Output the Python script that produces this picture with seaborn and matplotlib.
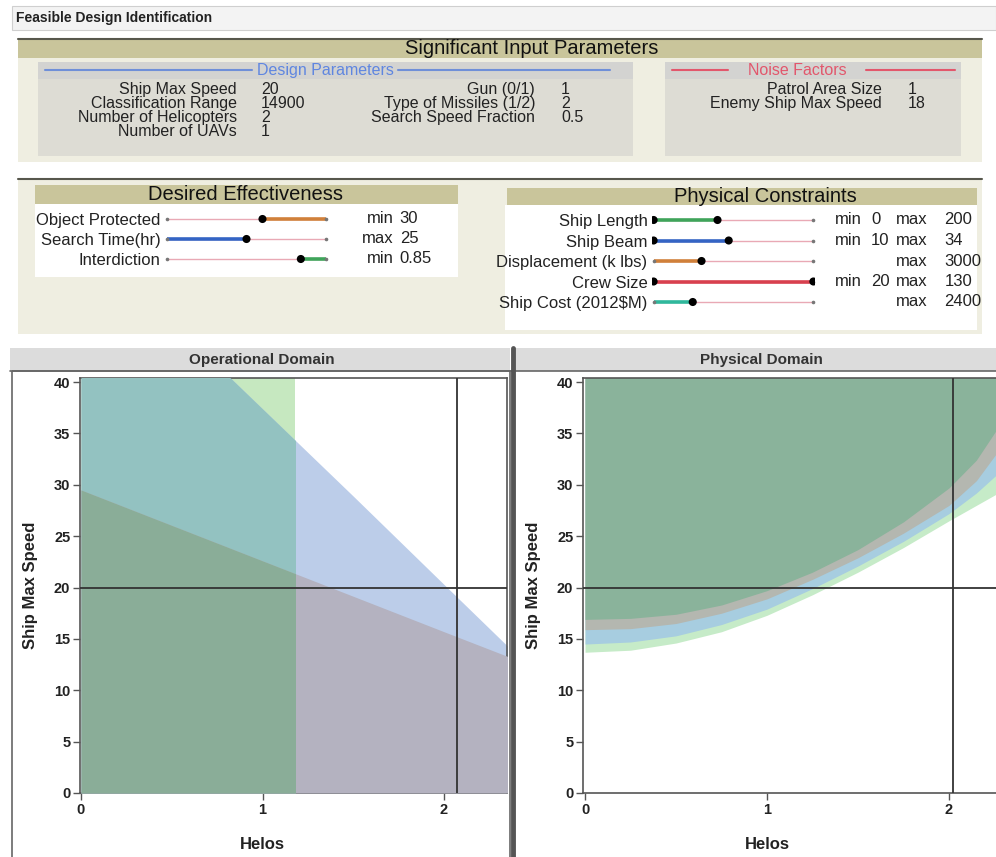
import matplotlib

matplotlib.use("Agg")
import matplotlib.pyplot as plt
from matplotlib.patches import Rectangle
import numpy as np
import pandas as pd
import seaborn as sns

# --- significant input parameters ---------------------------------------
design_names_a = ["Ship Max Speed", "Classification Range", "Number of Helicopters", "Number of UAVs"]
design_values_a = ["20", "14900", "2", "1"]
design_names_b = ["Gun (0/1)", "Type of Missiles (1/2)", "Search Speed Fraction"]
design_values_b = ["1", "2", "0.5"]
noise_names = ["Patrol Area Size", "Enemy Ship Max Speed"]
noise_values = ["1", "18"]

# --- desired effectiveness sliders (marker = fraction of slider range) ----
effect_names = ["Object Protected", "Search Time(hr)", "Interdiction"]
effect_pos = [0.60, 0.50, 0.84]
effect_kind = ["min", "max", "min"]
effect_limit = ["30", "25", "0.85"]
effect_colors = ["#d0803a", "#3464c4", "#3fa45a"]

# --- physical constraint sliders -----------------------------------------
phys_names = ["Ship Length", "Ship Beam", "Displacement (k lbs)", "Crew Size", "Ship Cost (2012\\$M)"]
phys_pos = [0.40, 0.47, 0.30, 1.00, 0.245]
phys_min = ["0", "10", "", "20", ""]
phys_max = ["200", "34", "3000", "130", "2400"]
phys_colors = ["#3fa45a", "#3464c4", "#d0803a", "#d8404e", "#2fb89c"]

# --- operational domain (ship max speed limits vs helos) ------------------
op_helos = [0.0, 0.5, 1.0, 1.5, 2.0, 2.35]
op_search_time = [54.5, 45.9, 37.4, 28.9, 20.3, 14.3]
op_object_protected = [29.5, 26.05, 22.6, 19.15, 15.7, 13.3]
op_interdiction_max_helos = 1.18
op_current_helos = 2.07

# --- physical domain (lower speed bounds vs helos) -----------------------
ph_helos = [0.0, 0.25, 0.5, 0.75, 1.0, 1.25, 1.5, 1.75, 2.0, 2.15, 2.3]
ph_length = [13.7, 13.9, 14.6, 15.7, 17.3, 19.3, 21.5, 23.9, 26.5, 28.0, 29.5]
ph_beam = [14.5, 14.7, 15.3, 16.4, 17.9, 19.9, 22.1, 24.5, 27.2, 29.2, 31.6]
ph_displacement = [15.9, 16.0, 16.5, 17.5, 18.9, 20.8, 22.9, 25.3, 28.0, 30.4, 34.0]
ph_cost = [16.9, 17.0, 17.4, 18.3, 19.7, 21.5, 23.7, 26.4, 29.7, 32.4, 36.4]
ph_current_helos = 2.02

current_speed = 20

W, H = 996, 857
OLIVE = "#c9c59b"
BEIGE = "#efeee1"
SUB = "#dddcd4"
PINK = "#e9a9b5"

sns.set_theme(style="white")
plt.rcParams["font.family"] = ["Liberation Sans", "DejaVu Sans"]

fig = plt.figure(figsize=(W / 100, H / 100), dpi=100)
fig.patch.set_facecolor("white")

bg = fig.add_axes([0, 0, 1, 1])
bg.set_xlim(0, W)
bg.set_ylim(H, 0)
bg.axis("off")


def box(x0, y0, x1, y1, fc, ec="none", lw=0.0):
    bg.add_patch(Rectangle((x0, y0), x1 - x0, y1 - y0, facecolor=fc, edgecolor=ec, linewidth=lw))


def px_axes(x0, y0, x1, y1):
    return fig.add_axes([x0 / W, 1 - y1 / H, (x1 - x0) / W, (y1 - y0) / H])


# title bar
box(12, 6, 996, 30, "#f3f3f3", "#cfcfcf", 0.8)
bg.text(16, 18, "Feasible Design Identification", fontsize=10, fontweight="bold", va="center", color="#222")

# significant input parameters panel
box(18, 38, 982, 162, BEIGE)
box(18, 39, 982, 58, OLIVE)
bg.plot([18, 982], [38.5, 38.5], color="#57574c", lw=1.5)
bg.text(532, 48, "Significant Input Parameters", fontsize=14.5, ha="center", va="center", color="#111")

box(38, 62, 633, 156, SUB)
box(38, 62, 633, 79, "#d3d3d1")
bg.plot([45, 252], [70, 70], color="#6f8fd8", lw=1.5)
bg.plot([398, 610], [70, 70], color="#6f8fd8", lw=1.5)
bg.text(325, 70, "Design Parameters", fontsize=11.5, ha="center", va="center", color="#5f86e0")

box(665, 62, 961, 156, SUB)
box(665, 62, 961, 79, "#d3d3d1")
bg.plot([672, 728], [70, 70], color="#e2576c", lw=1.5)
bg.plot([866, 955], [70, 70], color="#e2576c", lw=1.5)
bg.text(797, 70, "Noise Factors", fontsize=11.5, ha="center", va="center", color="#e2576c")

row_y = [89, 103, 117, 131]
for y, name, val in zip(row_y, design_names_a, design_values_a):
    bg.text(237, y, name, fontsize=11.5, ha="right", va="center", color="#222")
    bg.text(261, y, val, fontsize=11.5, ha="left", va="center", color="#222")
for y, name, val in zip(row_y, design_names_b, design_values_b):
    bg.text(535, y, name, fontsize=11.5, ha="right", va="center", color="#222")
    bg.text(561, y, val, fontsize=11.5, ha="left", va="center", color="#222")
for y, name, val in zip(row_y, noise_names, noise_values):
    bg.text(882, y, name, fontsize=11.5, ha="right", va="center", color="#222")
    bg.text(908, y, val, fontsize=11.5, ha="left", va="center", color="#222")

# effectiveness / constraint panel
box(18, 178, 982, 334, BEIGE)
bg.plot([18, 982], [178.5, 178.5], color="#57574c", lw=1.5)
box(35, 185, 458, 204, OLIVE)
box(35, 204, 458, 277, "white")
bg.text(245, 194.5, "Desired Effectiveness", fontsize=14.5, ha="center", va="center", color="#111")
box(507, 188, 977, 205, OLIVE)
box(505, 205, 977, 330, "white")
bg.text(765, 196.5, "Physical Constraints", fontsize=14.5, ha="center", va="center", color="#111")


def draw_sliders(ax, names, pos, colors, spans, starts):
    n = len(names)
    for i in range(n):
        ax.hlines(i, 0, 1, color=PINK, lw=1.0, zorder=1)
        ax.hlines(i, spans[i][0], spans[i][1], color=colors[i], lw=2.6, zorder=2)
    ax.plot([1] * n, list(range(n)), ls="none", marker="o", ms=1.6, color="#777", zorder=2)
    ends = pd.DataFrame({"pos": [0] * n, "row": list(range(n))})
    ends = ends[[not s for s in starts]]
    ax.plot(ends["pos"], ends["row"], ls="none", marker="o", ms=1.6, color="#777", zorder=2)
    dots = pd.DataFrame({"pos": pos, "row": list(range(n))})
    sns.scatterplot(data=dots, x="pos", y="row", color="black", s=34, edgecolor="none", zorder=3, ax=ax)
    mins = pd.DataFrame({"pos": [0] * n, "row": list(range(n))})[list(starts)]
    if len(mins):
        sns.scatterplot(data=mins, x="pos", y="row", color="black", s=34, edgecolor="none", zorder=3, ax=ax)
    ax.set_xlim(-0.01, 1.01)
    ax.set_ylim(n - 0.5, -0.5)
    ax.set_yticks(range(n))
    ax.set_yticklabels(names, fontsize=12, color="#222")
    ax.set_xticks([])
    ax.set_xlabel("")
    ax.set_ylabel("")
    ax.tick_params(axis="y", length=0, pad=3.2)
    ax.set_facecolor("none")
    for s in ax.spines.values():
        s.set_visible(False)


eff_ax = px_axes(165, 209, 328, 269)
eff_spans = [(p, 1) if k == "min" else (0, p) for p, k in zip(effect_pos, effect_kind)]
draw_sliders(eff_ax, effect_names, effect_pos, effect_colors, eff_spans, [False] * 3)
tr = eff_ax.get_yaxis_transform()
for i, (k, lim) in enumerate(zip(effect_kind, effect_limit)):
    eff_ax.text(1.405, i, k, transform=tr, fontsize=12, ha="right", va="center", color="#222")
    eff_ax.text(1.44, i, lim, transform=tr, fontsize=12, ha="left", va="center", color="#222")

phys_ax = px_axes(652, 209.75, 815, 312.25)
phys_spans = [(0, p) for p in phys_pos]
draw_sliders(phys_ax, phys_names, phys_pos, phys_colors, phys_spans, [m != "" for m in phys_min])
tr = phys_ax.get_yaxis_transform()
for i, (lo, hi) in enumerate(zip(phys_min, phys_max)):
    if lo:
        phys_ax.text(1.29, i, "min", transform=tr, fontsize=12, ha="right", va="center", color="#222")
        phys_ax.text(1.345, i, lo, transform=tr, fontsize=12, ha="left", va="center", color="#222")
    phys_ax.text(1.69, i, "max", transform=tr, fontsize=12, ha="right", va="center", color="#222")
    phys_ax.text(1.795, i, hi, transform=tr, fontsize=12, ha="left", va="center", color="#222")

# domain panels
box(10, 348, 510, 371, "#dcdcdc")
box(515, 348, 996, 371, "#dcdcdc")
bg.text(262, 360, "Operational Domain", fontsize=11, fontweight="bold", ha="center", va="center", color="#333")
bg.text(761, 360, "Physical Domain", fontsize=11, fontweight="bold", ha="center", va="center", color="#333")
bg.plot([10, 996], [371, 371], color="#666", lw=1.2)
bg.add_patch(Rectangle((12, 371), 498, 490, fill=False, edgecolor="#666", linewidth=1.2))
bg.plot([513, 513], [348, 857], color="#555", lw=3.5)

Y_TOP = 40.4


def style_domain(ax, xlim, label_x, ylabel_x):
    ax.set_xlim(*xlim)
    ax.set_ylim(0, Y_TOP)
    ax.set_xticks([0, 1, 2])
    ax.set_yticks(range(0, 41, 5))
    ax.tick_params(direction="out", length=5, width=1, color="#555", labelsize=10.5,
                   labelcolor="#222", bottom=True, left=True, pad=2)
    for lbl in ax.get_xticklabels() + ax.get_yticklabels():
        lbl.set_fontweight("bold")
    ax.set_xlabel("Helos", fontsize=12, fontweight="bold", color="#222")
    ax.set_ylabel("Ship Max Speed", fontsize=12, fontweight="bold", color="#222")
    ax.xaxis.set_label_coords((label_x - xlim[0]) / (xlim[1] - xlim[0]), -0.105)
    ax.yaxis.set_label_coords(ylabel_x, 0.5)
    ax.set_facecolor("white")
    for s in ax.spines.values():
        s.set_color("#555")
        s.set_linewidth(1.2)


# operational domain: interdiction (green), search time (blue), object protected (grey)
op_ax = px_axes(80, 378, 507, 793)
op_xlim = (-0.0055, 2.347)
style_domain(op_ax, op_xlim, 1.0, -0.098)
op_ax.axvspan(0, op_interdiction_max_helos, color="#c6e8c0", lw=0, zorder=1)
op_ax.fill_between(op_helos, 0, op_search_time, color="#bccde9", lw=0, zorder=2)
gb = op_ax.fill_between(op_helos, 0, op_search_time, color="#93c2c1", lw=0, zorder=3)
op_ax.fill_between(op_helos, 0, op_object_protected, color="#b4b2c0", lw=0, zorder=4)
gbp = op_ax.fill_between(op_helos, 0, op_object_protected, color="#8aad98", lw=0, zorder=5)
for poly in (gb, gbp):
    clip = Rectangle((0, 0), op_interdiction_max_helos, Y_TOP, transform=op_ax.transData)
    poly.set_clip_path(clip)
op_ax.axhline(current_speed, color="#333", lw=1.3, zorder=6)
op_ax.axvline(op_current_helos, color="#333", lw=1.3, zorder=6)

# physical domain: feasible speed lies above each lower bound
ph_ax = px_axes(583, 378, 1000, 793)
ph_xlim = (-0.011, 2.28)
style_domain(ph_ax, ph_xlim, 1.0, -0.1)
for bound, col in zip([ph_length, ph_beam, ph_displacement, ph_cost],
                      ["#c6ebc8", "#a7cde0", "#b4b7b0", "#8ab39b"]):
    ph_ax.fill_between(ph_helos, bound, 45, color=col, lw=0, zorder=2)
ph_ax.axhline(current_speed, color="#333", lw=1.3, zorder=6)
ph_ax.axvline(ph_current_helos, color="#333", lw=1.3, zorder=6)

fig.savefig("out.png", dpi=100, facecolor="white")
